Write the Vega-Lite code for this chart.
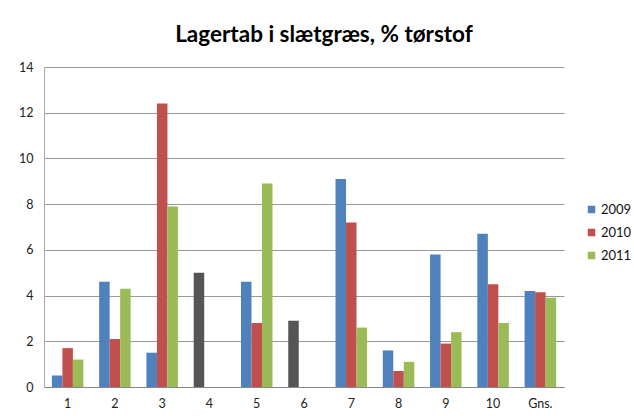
{
  "$schema": "https://vega.github.io/schema/vega-lite/v6.json",
  "autosize": "none",
  "width": 520,
  "height": 320,
  "padding": {"left": 44, "top": 67, "right": 70, "bottom": 29},
  "background": "white",
  "title": {
    "text": "Lagertab i slætgræs, % tørstof",
    "font": "Lato",
    "fontSize": 22.5,
    "fontWeight": "bold",
    "color": "#000000",
    "anchor": "middle",
    "dx": 20,
    "offset": 15
  },
  "data": {
    "values": [
      {"gruppe": "1", "aar": "2009", "serie": "2009", "vaerdi": 0.5},
      {"gruppe": "1", "aar": "2010", "serie": "2010", "vaerdi": 1.7},
      {"gruppe": "1", "aar": "2011", "serie": "2011", "vaerdi": 1.2},
      {"gruppe": "2", "aar": "2009", "serie": "2009", "vaerdi": 4.6},
      {"gruppe": "2", "aar": "2010", "serie": "2010", "vaerdi": 2.1},
      {"gruppe": "2", "aar": "2011", "serie": "2011", "vaerdi": 4.3},
      {"gruppe": "3", "aar": "2009", "serie": "2009", "vaerdi": 1.5},
      {"gruppe": "3", "aar": "2010", "serie": "2010", "vaerdi": 12.4},
      {"gruppe": "3", "aar": "2011", "serie": "2011", "vaerdi": 7.9},
      {"gruppe": "4", "aar": "2009", "serie": "andet", "vaerdi": 5.0},
      {"gruppe": "5", "aar": "2009", "serie": "2009", "vaerdi": 4.6},
      {"gruppe": "5", "aar": "2010", "serie": "2010", "vaerdi": 2.8},
      {"gruppe": "5", "aar": "2011", "serie": "2011", "vaerdi": 8.9},
      {"gruppe": "6", "aar": "2009", "serie": "andet", "vaerdi": 2.9},
      {"gruppe": "7", "aar": "2009", "serie": "2009", "vaerdi": 9.1},
      {"gruppe": "7", "aar": "2010", "serie": "2010", "vaerdi": 7.2},
      {"gruppe": "7", "aar": "2011", "serie": "2011", "vaerdi": 2.6},
      {"gruppe": "8", "aar": "2009", "serie": "2009", "vaerdi": 1.6},
      {"gruppe": "8", "aar": "2010", "serie": "2010", "vaerdi": 0.7},
      {"gruppe": "8", "aar": "2011", "serie": "2011", "vaerdi": 1.1},
      {"gruppe": "9", "aar": "2009", "serie": "2009", "vaerdi": 5.8},
      {"gruppe": "9", "aar": "2010", "serie": "2010", "vaerdi": 1.9},
      {"gruppe": "9", "aar": "2011", "serie": "2011", "vaerdi": 2.4},
      {"gruppe": "10", "aar": "2009", "serie": "2009", "vaerdi": 6.7},
      {"gruppe": "10", "aar": "2010", "serie": "2010", "vaerdi": 4.5},
      {"gruppe": "10", "aar": "2011", "serie": "2011", "vaerdi": 2.8},
      {"gruppe": "Gns.", "aar": "2009", "serie": "2009", "vaerdi": 4.2},
      {"gruppe": "Gns.", "aar": "2010", "serie": "2010", "vaerdi": 4.15},
      {"gruppe": "Gns.", "aar": "2011", "serie": "2011", "vaerdi": 3.9}
    ]
  },
  "mark": {"type": "bar"},
  "encoding": {
    "x": {
      "field": "gruppe",
      "type": "nominal",
      "sort": ["1", "2", "3", "4", "5", "6", "7", "8", "9", "10", "Gns."],
      "scale": {"paddingInner": 0.3333, "paddingOuter": 0.1667},
      "axis": {
        "title": null,
        "labelAngle": 0,
        "labelFont": "Lato",
        "labelFontSize": 12.5,
        "labelColor": "#222222",
        "labelPadding": 10,
        "ticks": false,
        "domainColor": "#888888",
        "domainWidth": 1
      }
    },
    "xOffset": {
      "field": "aar",
      "type": "nominal",
      "sort": ["2009", "2010", "2011"],
      "scale": {"paddingInner": 0, "paddingOuter": 0}
    },
    "y": {
      "field": "vaerdi",
      "type": "quantitative",
      "scale": {"domain": [0, 14], "nice": false},
      "axis": {
        "title": null,
        "values": [0, 2, 4, 6, 8, 10, 12, 14],
        "labelFont": "Lato",
        "labelFontSize": 12.5,
        "labelColor": "#222222",
        "labelPadding": 11,
        "ticks": false,
        "domain": true,
        "domainColor": "#aaaaaa",
        "gridColor": "#999999",
        "gridWidth": 1
      }
    },
    "color": {
      "field": "serie",
      "type": "nominal",
      "scale": {
        "domain": ["2009", "2010", "2011", "andet"],
        "range": ["#4F81BD", "#C0504D", "#9BBB59", "#555555"]
      },
      "legend": {
        "title": null,
        "values": ["2009", "2010", "2011"],
        "orient": "none",
        "legendX": 541,
        "legendY": 136,
        "symbolType": "square",
        "symbolSize": 56,
        "symbolStrokeWidth": 0,
        "labelFont": "Lato",
        "labelFontSize": 13,
        "labelColor": "#111111",
        "rowPadding": 9,
        "labelOffset": 3
      }
    }
  },
  "config": {
    "view": {"stroke": null}
  }
}
